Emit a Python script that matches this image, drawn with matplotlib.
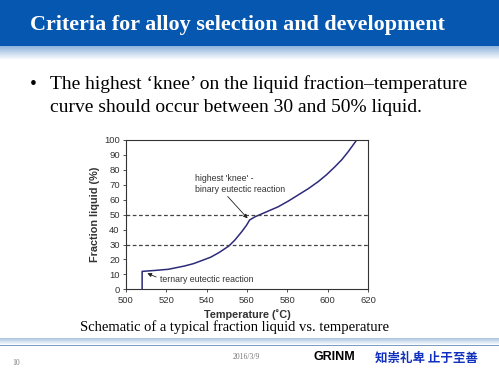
import numpy as np
import matplotlib
matplotlib.use("Agg")
from matplotlib import pyplot as plt

plt.rcParams['font.family'] = ['Liberation Sans', 'DejaVu Sans']

# curve data
temp = [508, 508, 514, 521, 529, 533.5, 537.5, 542, 546, 549, 551, 554,
        557.4, 559.8, 561.3, 564, 569, 575.5, 580.5, 585.4, 590.5, 595.3,
        599.5, 603.6, 607, 610.2, 614.4]
frac = [0, 12.0, 12.6, 13.4, 15.6, 17.2, 19.2, 21.5, 24.5, 27.2, 29.0, 33.0,
        38.6, 43.0, 46.4, 48.6, 51.5, 55.3, 59.1, 63.2, 67.5, 72.1,
        76.8, 82.1, 86.8, 92.2, 100]
xticks = list(range(500, 621, 20))
yticks = list(range(0, 101, 10))
guide_levels = [30, 50]

W, H = 499, 374
fig = plt.figure(figsize=(W / 100, H / 100), dpi=100)

# slide background
bg = fig.add_axes([0, 0, 1, 1])
bg.axis('off')
bg.add_patch(plt.Rectangle((0, 0), W, 46, color='#0557b0', lw=0))
grad = np.linspace(0, 1, 40).reshape(-1, 1)
bg.imshow(grad, cmap=matplotlib.colors.LinearSegmentedColormap.from_list(
    'hd', ['#8fb4dc', '#ffffff']), extent=(0, W, 60, 46), aspect='auto')
bg.imshow(grad[::-1], cmap=matplotlib.colors.LinearSegmentedColormap.from_list(
    'ft', ['#ffffff', '#a9c4e2']), extent=(0, W, 345, 338), aspect='auto')
bg.add_patch(plt.Rectangle((0, 345), W, 1.2, color='#7d9cc4', lw=0))
bg.set_xlim(0, W)
bg.set_ylim(H, 0)

serif = ['Liberation Serif', 'DejaVu Serif']
bg.text(30, 25, 'Criteria for alloy selection and development', color='white',
        fontsize=15.9, fontweight='bold', family=serif, va='center')
bg.text(30, 84, '\u2022', fontsize=14, family=serif, va='center')
bg.text(50, 84, 'The highest \u2018knee\u2019 on the liquid fraction\u2013temperature',
        fontsize=14, family=serif, va='center')
bg.text(50, 107, 'curve should occur between 30 and 50% liquid.',
        fontsize=14, family=serif, va='center')
bg.text(235, 327, 'Schematic of a typical fraction liquid vs. temperature',
        fontsize=10.5, family=serif, va='center', ha='center')
bg.text(12, 363, '10', fontsize=5.5, family=serif, color='#777777', va='center')
bg.text(246, 357, '2016/3/9', fontsize=5.5, family=serif, color='#777777',
        va='center', ha='center')
bg.text(314, 357, 'GRINM', fontsize=9, fontweight='bold', color='black',
        va='center')
bg.text(375, 358, '知崇礼卑 止于至善', fontsize=9, fontweight='bold',
        color='#1030c0', va='center', family=['Noto Sans CJK SC', 'DejaVu Sans'])

# the chart
ax = fig.add_axes([126 / W, (H - 289.3) / H, 242 / W, 149.3 / H])
ax.plot(temp, frac, color='#2d2a7a', lw=1.1)
for lv in guide_levels:
    ax.axhline(lv, color='#444444', lw=0.9, ls=(0, (3, 2)))
ax.set_xlim(500, 620)
ax.set_ylim(0, 100)
ax.set_xticks(xticks)
ax.set_yticks(yticks)
ax.tick_params(labelsize=6.8, length=2.5, width=0.6, colors='#333333',
               labelcolor='#333333', pad=2)
for s in ax.spines.values():
    s.set_linewidth(0.8)
    s.set_color('#333333')
ax.set_xlabel('Temperature (\u02daC)', fontsize=7.8, fontweight='bold',
              color='#333333', labelpad=3)
ax.set_ylabel('Fraction liquid (%)', fontsize=7.8, fontweight='bold',
              color='#333333', labelpad=3)

ax.annotate("highest 'knee' -\nbinary eutectic reaction", xy=(560.3, 47.5),
            xytext=(534, 64), fontsize=6.3, color='#333333', ha='left',
            va='bottom', linespacing=1.3,
            arrowprops=dict(arrowstyle='-|>', color='#222222', lw=0.6,
                            mutation_scale=6, shrinkA=0, shrinkB=0,
                            relpos=(0.34, 0)))
ax.annotate('ternary eutectic reaction', xy=(510.6, 10.7), xytext=(517, 6.5),
            fontsize=6.3, color='#333333', ha='left', va='center',
            arrowprops=dict(arrowstyle='-|>', color='#222222', lw=0.6,
                            mutation_scale=6, shrinkA=1, shrinkB=0,
                            relpos=(0, 0.6)))

fig.savefig('out.png', dpi=100)
